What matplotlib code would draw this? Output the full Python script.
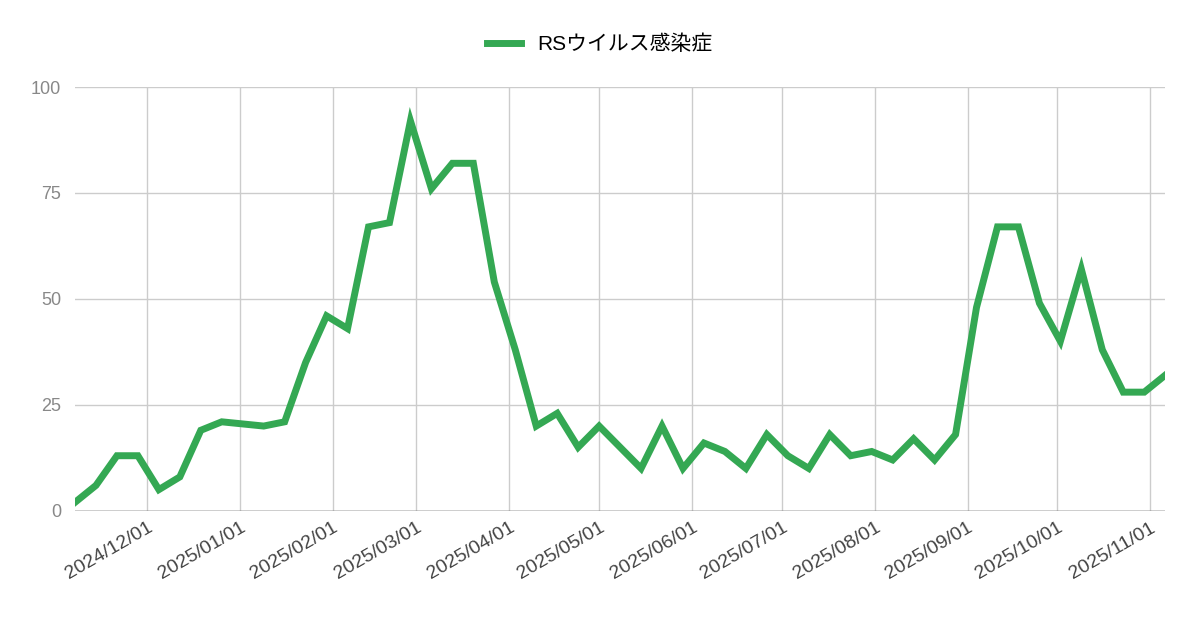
import matplotlib
matplotlib.use("Agg")
import matplotlib.pyplot as plt
import matplotlib.dates as mdates
import pandas as pd

plt.rcParams['font.family'] = ['Liberation Sans', 'Noto Sans CJK JP', 'DejaVu Sans']

start_date = "2024-11-07"
values = [2, 6, 13, 13, 5, 8, 19, 21, 20.5, 20, 21, 35, 46, 43, 67, 68, 92, 76, 82, 82,
          54, 38, 20, 23, 15, 20, 15, 10, 20, 10, 16, 14, 10, 18, 13, 10, 18, 13, 14, 12,
          17, 12, 18, 48, 67, 67, 49, 40, 57, 38, 28, 28, 32]
series_name = "RSウイルス感染症"
dates = pd.date_range(start_date, periods=len(values), freq="7D")
ticks = pd.date_range("2024-12-01", "2025-11-01", freq="MS")

fig = plt.figure(figsize=(12, 6.26), dpi=100)
ax = fig.add_axes([0.0625, 0.184, 0.9085, 0.677])
ax.plot(dates, values, color="#34a853", lw=5, label=series_name, solid_joinstyle="miter")
ax.set_xlim(dates[0], dates[-1])
ax.set_ylim(0, 100)
ax.set_yticks([0, 25, 50, 75, 100])
ax.set_xticks(ticks)
ax.xaxis.set_major_formatter(mdates.DateFormatter("%Y/%m/%d"))
for lbl in ax.get_xticklabels():
    lbl.set_rotation(30)
    lbl.set_ha("right")
    lbl.set_rotation_mode("anchor")
ax.tick_params(length=0, labelsize=14, colors="#444444")
ax.tick_params(axis='y', labelcolor="#888888", labelsize=13, pad=10)
ax.tick_params(axis='x', pad=6)
ax.grid(True, color="#cccccc", lw=1)
for s in ax.spines.values():
    s.set_visible(False)
ax.axhline(0, color="#333333", lw=1)
leg = fig.legend(loc="upper center", bbox_to_anchor=(0.5, 0.975), frameon=False,
           fontsize=15, handlelength=1.6, prop={'family': ['Liberation Sans', 'Noto Sans CJK JP'], 'size': 15})
fig.savefig("out.png")
